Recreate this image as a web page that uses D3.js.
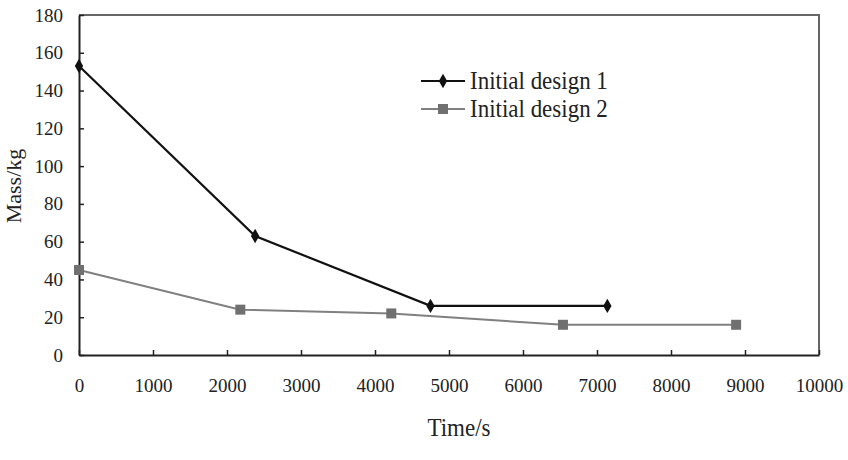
<!DOCTYPE html>
<html><head><meta charset="utf-8">
<script src="https://cdn.jsdelivr.net/npm/d3@7"></script>
<style>body{margin:0;background:#fff}svg{display:block}text{font-family:"Liberation Serif","Times New Roman",serif !important;fill:#222}</style>
</head><body>
<svg id="c" width="848" height="460"></svg>
<script>
const series1Name = "Initial design 1";
const series1Time = [0, 2380, 4750, 7140];
const series1Mass = [153, 63, 26, 26];
const series2Name = "Initial design 2";
const series2Time = [0, 2180, 4220, 6540, 8880];
const series2Mass = [45, 24, 22, 16, 16];
const xTicks = [0,1000,2000,3000,4000,5000,6000,7000,8000,9000,10000];
const yTicks = [0,20,40,60,80,100,120,140,160,180];
const xTitle = "Time/s", yTitle = "Mass/kg";

const svg = d3.select("#c");
const L=79, R=819, T=15, B=355;
const x = d3.scaleLinear().domain([0,10000]).range([L,R]);
const y = d3.scaleLinear().domain([0,180]).range([B,T]);
const SERIF = '"Liberation Serif", "Times New Roman", serif';

svg.append("path").attr("d",`M${L},${T}H${R}V${B}`).attr("fill","none").attr("stroke","#666").attr("stroke-width",2);

const xa = svg.append("g").attr("transform",`translate(0,${B})`)
  .call(d3.axisBottom(x).tickValues(xTicks).tickFormat(d3.format("d")).tickSizeInner(-5).tickSizeOuter(0).tickPadding(24));
const ya = svg.append("g").attr("transform",`translate(${L},0)`)
  .call(d3.axisLeft(y).tickValues(yTicks).tickSizeInner(-5).tickSizeOuter(0).tickPadding(16));
[xa,ya].forEach(a=>{
  a.attr("font-family",SERIF);
  a.select(".domain").attr("stroke","#222").attr("stroke-width",2);
  a.selectAll(".tick line").attr("stroke","#222").attr("stroke-width",1.5);
  a.selectAll("text").attr("font-size",19).style("font-family",SERIF).attr("fill","#222");
});

svg.append("text").attr("transform",`translate(${(L+R)/2+10},436) scale(1,1.12)`).attr("text-anchor","middle").attr("font-size",23).style("font-family",SERIF).text(xTitle);
svg.append("text").attr("transform",`translate(21,186) rotate(-90)`).attr("text-anchor","middle").attr("font-size",22).style("font-family",SERIF).text(yTitle);

const line = d3.line().x(d=>x(d[0])).y(d=>y(d[1]));
const d1 = series1Time.map((t,i)=>[t,series1Mass[i]]);
const d2 = series2Time.map((t,i)=>[t,series2Mass[i]]);

svg.append("path").datum(d2).attr("d",line).attr("fill","none").attr("stroke","#808080").attr("stroke-width",2);
svg.selectAll(".m2").data(d2).enter().append("rect")
  .attr("x",d=>x(d[0])-5).attr("y",d=>y(d[1])-5).attr("width",10).attr("height",10).attr("fill","#707070");

svg.append("path").datum(d1).attr("d",line).attr("fill","none").attr("stroke","#111").attr("stroke-width",2.2);
const dia = d3.symbol().type(d3.symbolDiamond).size(60);
svg.selectAll(".m1").data(d1).enter().append("path")
  .attr("d",dia).attr("transform",d=>`translate(${x(d[0])},${y(d[1])})`).attr("fill","#111");

const lg = svg.append("g");
const items=[{n:series1Name,c:"#111",t:"d",yy:81},{n:series2Name,c:"#808080",t:"s",yy:109}];
items.forEach(it=>{
  lg.append("line").attr("x1",421).attr("x2",465).attr("y1",it.yy).attr("y2",it.yy).attr("stroke",it.c).attr("stroke-width",2.2);
  if(it.t==="d") lg.append("path").attr("d",dia).attr("transform",`translate(443,${it.yy})`).attr("fill","#111");
  else lg.append("rect").attr("x",438).attr("y",it.yy-5).attr("width",10).attr("height",10).attr("fill","#707070");
  lg.append("text").attr("transform",`translate(470,${it.yy+8}) scale(1,1.1)`).attr("font-size",23).style("font-family",SERIF).text(it.n);
});
</script>
</body></html>
